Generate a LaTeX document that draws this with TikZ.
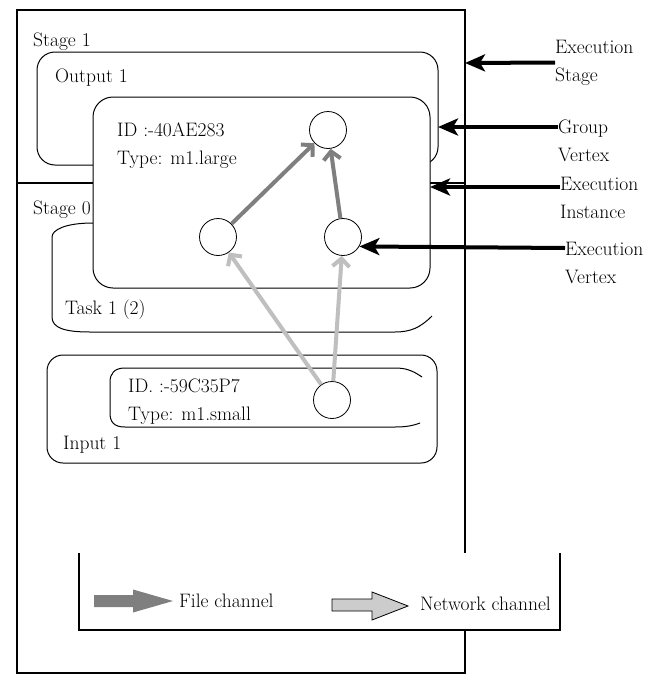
\documentclass[tikz,border=0pt]{standalone}
\usepackage{tikz}
\usetikzlibrary{positioning,arrows.meta}
\tikzset{>=stealth}
\definecolor{filegray}{HTML}{7F7F7F}
\definecolor{netgray}{HTML}{BFBFBF}
\tikzset{
  lbl/.style={inner sep=0pt,anchor=west,align=left,font=\rmfamily\fontsize{19.5}{28}\selectfont},
  vertex/.style={circle,draw,line width=0.8pt,minimum size=37pt,inner sep=0pt},
  box/.style={draw,fill=white,line width=1pt,rounded corners=18pt},
  filech/.style={draw=filegray,line width=4pt,-{Straight Barb[length=8pt,width=17pt]}},
  netch/.style={draw=netgray,line width=4pt,-{Straight Barb[length=8pt,width=17pt]}},
  pointer/.style={line width=4pt,-{Stealth[length=20pt,width=17pt,inset=5pt]}}
}

\begin{document}
\begin{tikzpicture}[x=1pt,y=-1pt]
\useasboundingbox (0,0) rectangle (656,675);
\draw[line width=1.2pt] (17,10) rectangle (465,673);
\draw[line width=1.2pt] (17,183) -- (465,183);
\node[lbl] (stage1) at (33,42) {Stage 1};
\node[lbl] (stage0) at (33,210) {Stage 0};
\draw[box] (37,52) rectangle (438,165);
\node[lbl] (out1) at (55,78) {Output 1};
\draw[line width=1pt] (432,316) .. controls (420,328) and (410,332) .. (395,332) -- (90,332)
  .. controls (65,332) and (52,328) .. (52,317) -- (52,237)
  .. controls (52,230) and (65,223) .. (93,223) -- (300,223);
\node[lbl] (task1) at (65,310) {Task 1 (2)};
\draw[box,rounded corners=20pt] (93,97) rectangle (430,288);
\node[lbl] (inst1) at (117,146) {ID :-40AE283\\Type: m1.large};
\draw[box,rounded corners=16pt] (47,355) rectangle (437,463);
\draw[line width=1pt] (422,377) .. controls (412,370) and (405,368) .. (395,368) -- (125,368)
  .. controls (114,368) and (110,374) .. (110,382) -- (110,413)
  .. controls (110,422) and (114,427) .. (125,427) -- (395,427)
  .. controls (405,427) and (412,426) .. (420,423);
\node[lbl] (inst0) at (128,401.5) {ID. :-59C35P7\\Type: m1.small};
\node[lbl] (in1) at (63,445) {Input 1};
\node[vertex] (v1) at (328,130) {};
\node[vertex] (v2) at (218,237) {};
\node[vertex] (v3) at (343,237) {};
\node[vertex] (v4) at (332,400) {};
\draw[filech] (v2) -- (v1);
\draw[filech] (v3) -- (v1);
\draw[netch] (v4) -- (v2);
\draw[netch] (v4) -- (v3);
\coordinate (stagehit) at (465,63);
\coordinate (grouphit) at (438,127);
\coordinate (insthit) at (430,187);
\node[lbl] (stagelbl) at (555,62.5) {Execution\\Stage};
\node[lbl] (grouplbl) at (558,141) {Group\\Vertex};
\node[lbl] (instlbl) at (560,198) {Execution\\Instance};
\node[lbl] (vtxlbl) at (565,263) {Execution\\Vertex};
\draw[pointer] (stagelbl.west) -- (stagehit);
\draw[pointer] ([yshift=14pt]grouplbl.west) -- (grouphit);
\draw[pointer] ([yshift=11pt]instlbl.west) -- (insthit);
\draw[pointer] ([yshift=15pt]vtxlbl.west) -- (v3.-30);
\fill[white] (79,553) rectangle (560,630);
\draw[line width=1.2pt] (79,553) -- (79,630) -- (560,630) -- (560,553);
\fill[filegray] (94,595) -- (133,595) -- (133,589.5) -- (173,601) -- (133,612.5) -- (133,607) -- (94,607) -- cycle;
\node[lbl] (filetxt) at (179,601) {File channel};
\draw[fill=netgray!80,line width=0.8pt] (332,599) -- (372,599) -- (372,592) -- (408,606) -- (372,620) -- (372,611) -- (332,611) -- cycle;
\node[lbl] (nettxt) at (420,604) {Network channel};
\end{tikzpicture}
\end{document}
